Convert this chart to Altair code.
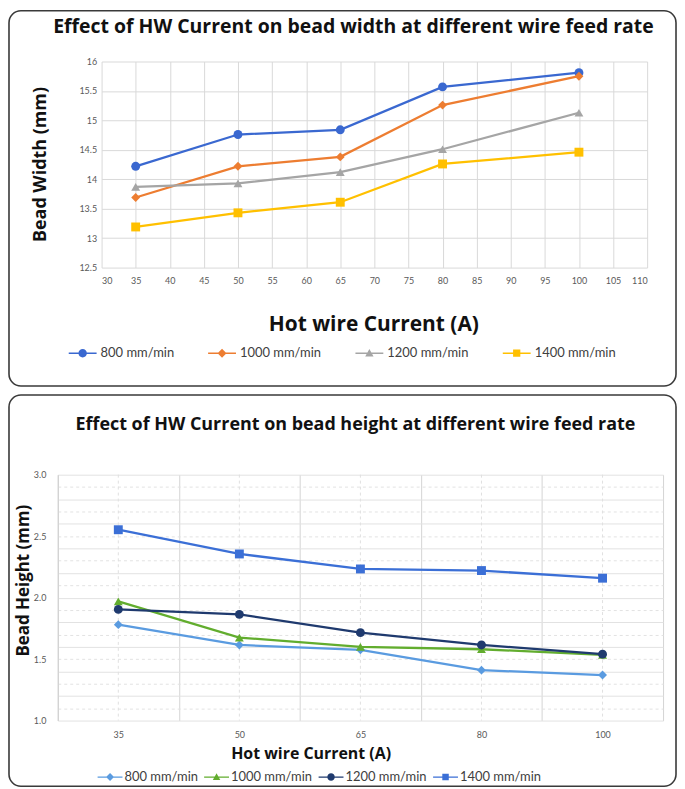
import altair as alt
import pandas as pd

currents = [35, 50, 65, 80, 100]
series = ["800 mm/min", "1000 mm/min", "1200 mm/min", "1400 mm/min"]

width_800 = [14.22, 14.76, 14.84, 15.57, 15.81]
width_1000 = [13.69, 14.22, 14.38, 15.26, 15.75]
width_1200 = [13.87, 13.93, 14.12, 14.51, 15.13]
width_1400 = [13.19, 13.43, 13.61, 14.26, 14.46]

height_800 = [1.78, 1.615, 1.575, 1.41, 1.37]
height_1000 = [1.97, 1.675, 1.60, 1.58, 1.535]
height_1200 = [1.904, 1.864, 1.715, 1.615, 1.54]
height_1400 = [2.552, 2.355, 2.233, 2.22, 2.158]

top_title = "Effect of HW Current on bead width at different wire feed rate"
bottom_title = "Effect of HW Current on bead height at different wire feed rate"
x_title = "Hot wire Current (A)"
top_y_title = "Bead Width (mm)"
bottom_y_title = "Bead Height (mm)"

top_x_ticks = list(range(30, 111, 5))
top_y_ticks = [12.5, 13, 13.5, 14, 14.5, 15, 15.5, 16]
bottom_y_ticks = [round(1.0 + 0.1 * i, 1) for i in range(21)]

top_colors = ["#3a68d0", "#ed7d31", "#a5a5a5", "#ffc000"]
bottom_colors = ["#5a9be0", "#62ad2e", "#1f3a6e", "#3b6fd6"]
top_shapes = ["circle", "diamond", "triangle-up", "square"]
bottom_shapes = ["diamond", "triangle-up", "circle", "square"]

LINE = "M-1,-0.05H1V0.05H-1Z"
P_CIRCLE = LINE + "M-0.3,0A0.3,0.3 0 1,1 0.3,0A0.3,0.3 0 1,1 -0.3,0Z"
P_DIAMOND = LINE + "M0,-0.32L0.32,0L0,0.32L-0.32,0Z"
P_TRIANGLE = LINE + "M0,-0.3L0.3,0.24L-0.3,0.24Z"
P_SQUARE = LINE + "M-0.26,-0.26H0.26V0.26H-0.26Z"
top_legend_paths = [P_CIRCLE, P_DIAMOND, P_TRIANGLE, P_SQUARE]
bottom_legend_paths = [P_DIAMOND, P_TRIANGLE, P_CIRCLE, P_SQUARE]

FONT = "Lato"
TFONT = "Open Sans"


def long_table(lists):
    rows = []
    for s, vals in zip(series, lists):
        for c, v in zip(currents, vals):
            rows.append({"current": c, "series": s, "value": v})
    return pd.DataFrame(rows)


df_top = long_table([width_800, width_1000, width_1200, width_1400])
df_bot = long_table([height_800, height_1000, height_1200, height_1400])
one = pd.DataFrame({"k": [0]})
cur_df = pd.DataFrame({"current": currents})

# ---------------- top chart ----------------
W1, H1 = 592, 207

x1 = alt.X(
    "current:Q",
    scale=alt.Scale(domain=[30, 110], range=[44, 592], nice=False, zero=False),
    axis=alt.Axis(
        values=top_x_ticks, tickCount=40, grid=True, gridColor="#d9d9d9", domain=False, ticks=False,
        labelFontSize=9, labelColor="#595959", labelPadding=9, labelFont=FONT, labelOverlap=False,
        title=x_title, titleFontSize=21, titleFontWeight="bold", titleFont=TFONT,
        titleColor="#111111", titleX=317, titleY=57, titleBaseline="middle", titleAlign="center",
    ),
)
y1 = alt.Y(
    "value:Q",
    scale=alt.Scale(domain=[12.5, 16], nice=False, zero=False),
    axis=alt.Axis(
        values=top_y_ticks, tickCount=40, format="~g", grid=True, gridColor="#d9d9d9", domain=False,
        ticks=False, offset=-44, labelOverlap=False,
        labelFontSize=9, labelColor="#595959", labelPadding=5, labelFont=FONT,
        title=top_y_title, titleFontSize=18, titleFontWeight="bold", titleFont=TFONT,
        titleColor="#111111", titleX=-61, titleY=103, titleAngle=270,
        titleBaseline="middle", titleAlign="center",
    ),
)

top_legend = alt.Legend(
    orient="none", legendX=11, legendY=279, direction="horizontal", columns=4, title=None,
    symbolSize=784, symbolOpacity=1, symbolStrokeWidth=0, labelFontSize=13, labelFont=FONT,
    labelColor="#404040", labelOffset=4, columnPadding=34, labelLimit=300,
)

border1 = alt.Chart(one).mark_rect(
    fill="white", fillOpacity=0, stroke="#3a3a3a", strokeWidth=1.6, cornerRadius=12
).encode(x=alt.value(-49), x2=alt.value(621), y=alt.value(-51), y2=alt.value(326))

title1 = alt.Chart(one).mark_text(
    font=TFONT, fontSize=19.5, fontWeight="bold", color="#111111", align="center", baseline="middle"
).encode(x=alt.value(297), y=alt.value(-35), text=alt.value(top_title))

base1 = alt.Chart(df_top)
lines1 = base1.mark_line(strokeWidth=2.3).encode(
    x=x1, y=y1,
    color=alt.Color("series:N", sort=series, scale=alt.Scale(domain=series, range=top_colors), legend=None),
    detail="series:N",
)
points1 = base1.mark_point(filled=True, size=80, opacity=1).encode(
    x=x1, y=y1,
    color=alt.Color("series:N", sort=series, scale=alt.Scale(domain=series, range=top_colors), legend=None),
    shape=alt.Shape("series:N", sort=series, scale=alt.Scale(domain=series, range=top_shapes), legend=None),
)
legend1 = base1.mark_point(filled=True, opacity=0).encode(
    x=x1, y=y1,
    color=alt.Color("series:N", sort=series, scale=alt.Scale(domain=series, range=top_colors), legend=top_legend),
    shape=alt.Shape("series:N", sort=series, scale=alt.Scale(domain=series, range=top_legend_paths), legend=top_legend),
)

top = alt.layer(border1, title1, lines1, points1, legend1).resolve_scale(
    color="independent", shape="independent"
).properties(width=W1, height=H1)

# ---------------- bottom chart ----------------
W2, H2 = 608, 276

x_scale2 = alt.Scale(type="band", paddingInner=0, paddingOuter=0)
y_scale2 = alt.Scale(domain=[1.0, 3.0], range=[276, 29], nice=False, zero=False)
x2 = alt.X(
    "current:O", scale=x_scale2,
    axis=alt.Axis(
        orient="top", tickBand="extent", grid=True, gridColor="#d4d4d4", labelAngle=0,
        ticks=False, tickSize=0, domain=False, labelFontSize=9, labelColor="#595959",
        labelPadding=-295, labelBaseline="bottom", labelFont=FONT,
        title=x_title, titleFontSize=16, titleFontWeight="bold", titleFont=TFONT,
        titleColor="#111111", titleX=254, titleY=309, titleBaseline="middle", titleAlign="center",
    ),
)
y2 = alt.Y(
    "value:Q",
    scale=y_scale2,
    axis=alt.Axis(
        values=bottom_y_ticks, tickCount=40, grid=True, gridColor="#e2e2e2",
        gridDash={"condition": {"test": "round(datum.value*10) % 2 == 1", "value": [3, 3]}, "value": []},
        labelExpr="abs(datum.value*2 - round(datum.value*2)) < 0.001 ? format(datum.value, '.1f') : ''",
        labelOverlap=False,
        domain=True, domainColor="#d0d0d0", ticks=False,
        labelFontSize=9, labelColor="#595959", labelPadding=12, labelFont=FONT,
        title=bottom_y_title, titleFontSize=17, titleFontWeight="bold", titleFont=TFONT,
        titleColor="#111111", titleX=-34, titleY=135, titleAngle=270,
        titleBaseline="middle", titleAlign="center",
    ),
)

bottom_legend = alt.Legend(
    orient="none", legendX=40, legendY=320, direction="horizontal", columns=4, title=None,
    symbolSize=625, symbolOpacity=1, symbolStrokeWidth=0, labelFontSize=13, labelFont=FONT,
    labelColor="#404040", labelOffset=2, columnPadding=6, labelLimit=300,
)

border2 = alt.Chart(one).mark_rect(
    fill="white", fillOpacity=0, stroke="#3a3a3a", strokeWidth=1.6, cornerRadius=12
).encode(x=alt.value(-49), x2=alt.value(621), y=alt.value(-51), y2=alt.value(342))

title2 = alt.Chart(one).mark_text(
    font=TFONT, fontSize=18, fontWeight="bold", color="#111111", align="center", baseline="middle"
).encode(x=alt.value(299), y=alt.value(-21), text=alt.value(bottom_title))

centers2 = alt.Chart(cur_df).mark_rule(color="#e0e0e0", strokeDash=[3, 3], strokeWidth=1).encode(
    x=x2,
    y=alt.datum(3.0, scale=y_scale2),
    y2=alt.datum(1.0),
)

base2 = alt.Chart(df_bot)
lines2 = base2.mark_line(strokeWidth=2.3).encode(
    x=x2, y=y2,
    color=alt.Color("series:N", sort=series, scale=alt.Scale(domain=series, range=bottom_colors), legend=None),
    detail="series:N",
)
points2 = base2.mark_point(filled=True, size=80, opacity=1).encode(
    x=x2, y=y2,
    color=alt.Color("series:N", sort=series, scale=alt.Scale(domain=series, range=bottom_colors), legend=None),
    shape=alt.Shape("series:N", sort=series, scale=alt.Scale(domain=series, range=bottom_shapes), legend=None),
)
legend2 = base2.mark_point(filled=True, opacity=0).encode(
    x=x2, y=y2,
    color=alt.Color("series:N", sort=series, scale=alt.Scale(domain=series, range=bottom_colors), legend=bottom_legend),
    shape=alt.Shape("series:N", sort=series, scale=alt.Scale(domain=series, range=bottom_legend_paths), legend=bottom_legend),
)

bottom = alt.layer(border2, title2, centers2, lines2, points2, legend2).resolve_scale(
    color="independent", shape="independent"
).properties(width=W2, height=H2)

chart = alt.concat(top, bottom, columns=1, spacing=7).properties(
    bounds="full", padding=0
).configure_view(stroke=None)

chart.save("out.html", embed_options={"renderer": "svg", "actions": False})
